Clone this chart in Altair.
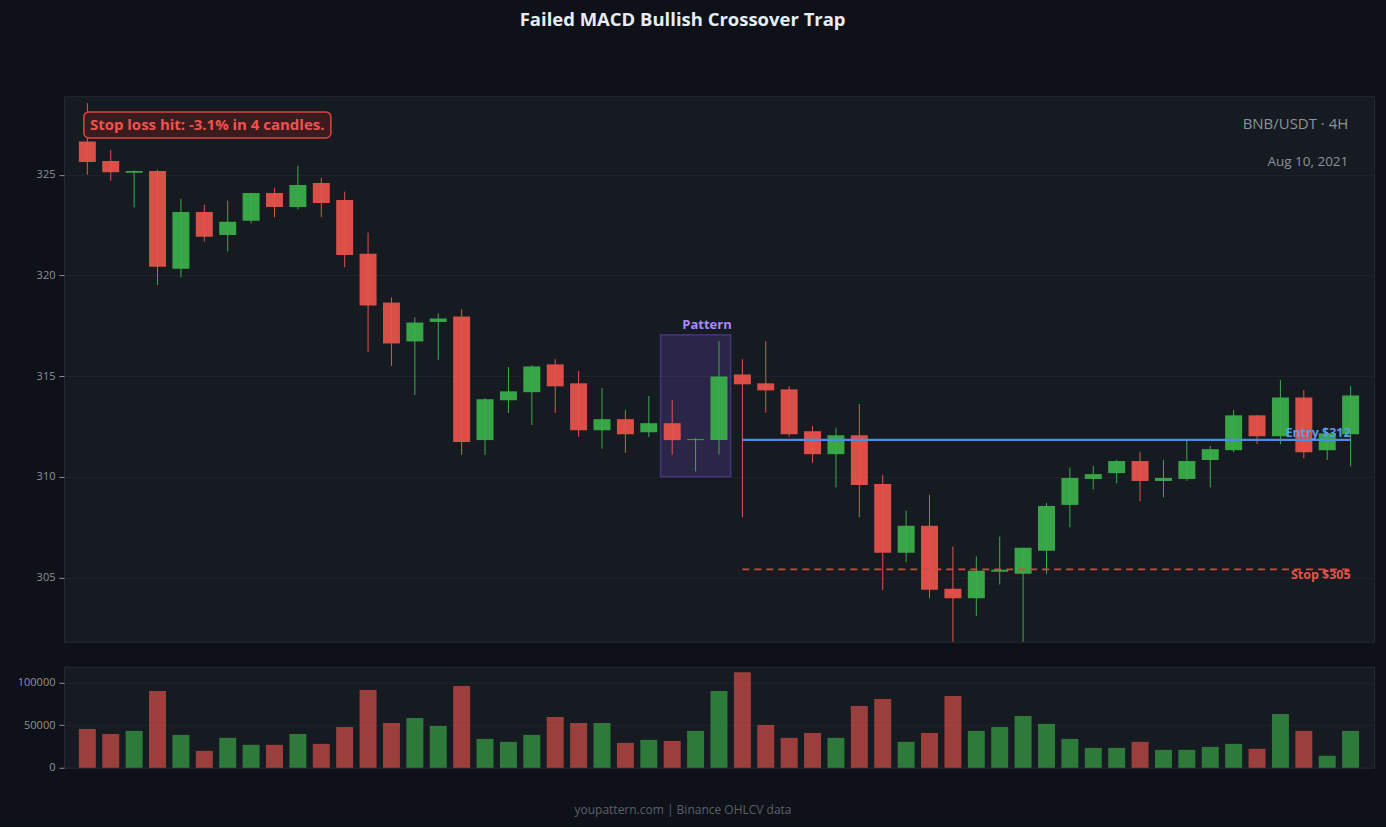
import altair as alt
import pandas as pd

# ---------------- data ----------------
opens = [326.65, 325.68, 325.10, 325.18, 320.33, 323.15, 322.01, 322.71, 324.09, 323.40,
         324.59, 323.75, 321.07, 318.65, 316.72, 317.69, 317.96, 311.82, 313.80, 314.20,
         315.58, 314.64, 312.31, 312.86, 312.21, 312.66, 311.82, 311.82, 315.08, 314.64,
         314.34, 312.26, 311.12, 312.06, 309.64, 306.22, 307.56, 304.44, 303.97, 305.28,
         305.18, 306.32, 308.60, 309.89, 310.18, 310.78, 309.79, 309.89, 310.83, 311.32,
         313.05, 312.01, 313.94, 311.32, 312.11]
highs = [328.56, 326.24, 325.22, 325.25, 323.81, 323.51, 323.71, 324.10, 324.36, 325.45,
         324.85, 324.16, 322.13, 318.91, 317.92, 318.12, 318.32, 313.91, 315.45, 315.54,
         315.84, 315.25, 314.41, 313.32, 314.01, 313.81, 311.93, 316.73, 315.84, 316.73,
         314.50, 312.52, 312.43, 313.61, 310.10, 308.32, 309.11, 306.53, 306.04, 307.03,
         306.47, 308.70, 310.45, 310.54, 310.84, 311.24, 310.84, 311.83, 311.53, 313.32,
         313.07, 314.80, 314.31, 312.16, 314.50]
lows = [325.00, 324.70, 323.38, 319.52, 319.90, 321.68, 321.19, 322.59, 322.89, 323.28,
        322.89, 320.41, 316.20, 315.50, 314.06, 315.79, 311.09, 311.09, 313.17, 312.57,
        313.17, 311.98, 311.39, 311.19, 311.98, 311.09, 310.26, 311.10, 307.99, 313.18,
        311.99, 310.69, 309.47, 307.99, 304.37, 305.76, 303.97, 301.70, 303.08, 304.65,
        301.70, 305.16, 307.49, 309.37, 309.67, 308.78, 308.98, 309.79, 309.47, 311.22,
        311.62, 311.62, 310.92, 310.83, 310.51]
closes = [325.63, 325.13, 325.18, 320.43, 323.15, 321.92, 322.66, 324.09, 323.40, 324.49,
          323.60, 321.02, 318.50, 316.62, 317.66, 317.86, 311.72, 313.85, 314.24, 315.48,
          314.49, 312.31, 312.86, 312.11, 312.66, 311.82, 311.87, 314.98, 314.59, 314.29,
          312.11, 311.12, 312.06, 309.59, 306.22, 307.56, 304.39, 303.97, 305.33, 305.38,
          306.47, 308.55, 309.94, 310.13, 310.78, 309.79, 309.94, 310.78, 311.37, 313.05,
          312.01, 313.94, 311.22, 312.16, 314.04]
volumes = [45700, 39800, 43400, 90200, 38700, 19900, 35200, 27000, 27000, 39800,
           28100, 48000, 91400, 52700, 58600, 49200, 96100, 34000, 30500, 38700,
           59800, 52700, 52700, 29300, 32800, 31600, 43400, 90200, 112500, 50400,
           35200, 41000, 35200, 72700, 80900, 30500, 41000, 84400, 43400, 48000,
           60900, 51600, 34000, 23400, 23400, 30500, 21100, 21100, 24600, 28100,
           22300, 63300, 43400, 14100, 43400]

pattern_start, pattern_end = 24.5, 27.5
pattern_low, pattern_high = 310.0, 317.05
entry_price = 311.83
stop_price = 305.4
level_start, level_end = 28, 54

title_text = "Failed MACD Bullish Crossover Trap"
footer_text = "youpattern.com | Binance OHLCV data"
pair_text = "BNB/USDT · 4H"
date_text = "Aug 10, 2021"
stop_hit_text = "Stop loss hit: -3.1% in 4 candles."
entry_label = "Entry $312"
stop_label = "Stop $305"
pattern_label = "Pattern"

# ---------------- style ----------------
BG = "#0e1117"
PANEL = "#161a21"
GREEN = "#3aae4a"
RED = "#e5534b"
FONT = "Open Sans"

n = len(opens)
df = pd.DataFrame({
    "i": list(range(n)),
    "open": opens, "high": highs, "low": lows, "close": closes, "vol": volumes,
})
df["dir"] = ["up" if c >= o else "down" for o, c in zip(opens, closes)]

W, H_MAIN, H_VOL = 1311, 546, 101

XSC = alt.Scale(domain=[-1, 55], nice=False, zero=False, padding=0)
YSC = alt.Scale(domain=[301.8, 328.9], nice=False, zero=False)
YAX = alt.Axis(values=[305, 310, 315, 320, 325], title=None)


def X(field):
    return alt.X(field, scale=XSC, axis=None)


def Y(field):
    return alt.Y(field, scale=YSC, axis=YAX)


color = alt.Color("dir:N", scale=alt.Scale(domain=["up", "down"], range=[GREEN, RED]), legend=None)

base = alt.Chart(df)

wicks = base.mark_rule(strokeWidth=1, clip=True).encode(
    x=X("i:Q"), y=Y("low:Q"), y2="high:Q", color=color,
)
bodies = base.mark_bar(size=17, clip=True, strokeWidth=1, opacity=0.95).encode(
    x=X("i:Q"), y=Y("open:Q"), y2="close:Q", color=color,
)

pat_df = pd.DataFrame({"x": [pattern_start], "x2": [pattern_end], "y": [pattern_low],
                       "y2": [pattern_high], "t": [pattern_label]})
pattern_box = alt.Chart(pat_df).mark_rect(
    fill="#8b5cf6", fillOpacity=0.18, stroke="#8b5cf6", strokeOpacity=0.35, strokeWidth=1.5
).encode(x=X("x:Q"), x2="x2:Q", y=Y("y:Q"), y2="y2:Q")
pattern_txt = alt.Chart(pat_df).mark_text(
    align="right", baseline="bottom", dy=-3, dx=1, font=FONT, fontSize=13,
    fontWeight="bold", color="#a78bfa"
).encode(x=X("x2:Q"), y=Y("y2:Q"), text="t:N")

entry_df = pd.DataFrame({"x": [level_start], "x2": [level_end], "y": [entry_price], "label": [entry_label]})
stop_df = pd.DataFrame({"x": [level_start], "x2": [level_end], "y": [stop_price], "label": [stop_label]})
entry_line = alt.Chart(entry_df).mark_rule(color="#4a8fe0", strokeWidth=2.2).encode(
    x=X("x:Q"), x2="x2:Q", y=Y("y:Q"))
stop_line = alt.Chart(stop_df).mark_rule(color="#d9463f", strokeWidth=1.6, strokeDash=[7, 5]).encode(
    x=X("x:Q"), x2="x2:Q", y=Y("y:Q"))
entry_txt = alt.Chart(entry_df).mark_text(
    align="right", baseline="middle", dy=-7, font=FONT, fontSize=12.5,
    fontWeight="bold", color="#5a9ee8"
).encode(x=X("x2:Q"), y=Y("y:Q"), text="label:N")
stop_txt = alt.Chart(stop_df).mark_text(
    align="right", baseline="middle", dy=6, font=FONT, fontSize=12.5,
    fontWeight="bold", color="#e5534b"
).encode(x=X("x2:Q"), y=Y("y:Q"), text="label:N")

# annotation box in data units (candle index / price)
box_df = pd.DataFrame({"x": [-0.15], "x2": [10.41], "y": [328.12], "y2": [326.83],
                       "tx": [0.11], "ty": [327.48], "t": [stop_hit_text]})
box = alt.Chart(box_df).mark_rect(
    fill="#3a1c1e", stroke="#d9463f", strokeWidth=1.5, cornerRadius=5
).encode(x=X("x:Q"), x2="x2:Q", y=Y("y:Q"), y2="y2:Q")
box_txt = alt.Chart(box_df).mark_text(
    align="left", baseline="middle", font=FONT, fontSize=15, fontWeight="bold", color="#ef5350"
).encode(x=X("tx:Q"), y=Y("ty:Q"), text="t:N")

pair_df = pd.DataFrame({"t": [pair_text], "x": [53.9], "y": [327.5]})
date_df = pd.DataFrame({"t": [date_text], "x": [53.9], "y": [325.65]})
pair = alt.Chart(pair_df).mark_text(
    align="right", baseline="middle", font=FONT, fontSize=15, color="#8b949e"
).encode(x=X("x:Q"), y=Y("y:Q"), text="t:N")
date = alt.Chart(date_df).mark_text(
    align="right", baseline="middle", font=FONT, fontSize=13.5, color="#8b949e"
).encode(x=X("x:Q"), y=Y("y:Q"), text="t:N")

main = alt.layer(
    pattern_box, wicks, bodies, entry_line, stop_line, pattern_txt,
    entry_txt, stop_txt, box, box_txt, pair, date
).properties(width=W, height=H_MAIN)

vol = base.mark_bar(size=17, opacity=0.65).encode(
    x=X("i:Q"),
    y=alt.Y("vol:Q", scale=alt.Scale(domain=[0, 118800], nice=False),
            axis=alt.Axis(values=[0, 50000, 100000], format="d", title=None)),
    color=color,
).properties(
    width=W, height=H_VOL,
    title=alt.TitleParams(footer_text, orient="bottom", anchor="middle",
                          dx=-36, offset=32, fontSize=12, font=FONT, fontWeight="normal",
                          color="#5a606b"),
)

chart = alt.vconcat(main, vol, spacing=23).properties(
    title=alt.TitleParams(title_text, anchor="middle", fontSize=18.5, font=FONT, dx=-13,
                          fontWeight="bold", color="#e6edf3", offset=66),
    background=BG,
    padding={"left": 16, "top": 11, "right": 11, "bottom": 10},
).configure_view(
    fill=PANEL, stroke="#262b33", strokeWidth=1
).configure_axis(
    labelColor="#8b949e", labelFont=FONT, labelFontSize=11, tickColor="#8b949e",
    tickSize=5, domain=False, gridColor="#1f242c", gridWidth=1, labelPadding=4,
)

chart.save("out.html", embed_options={"renderer": "svg", "actions": False})
